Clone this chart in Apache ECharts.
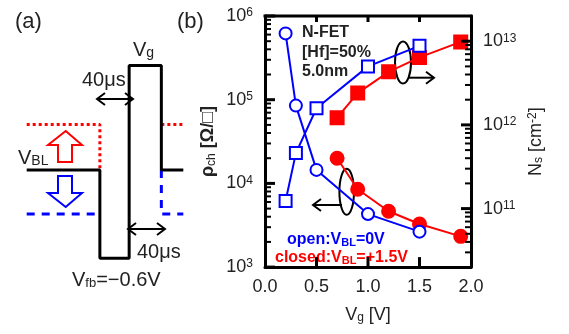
<!DOCTYPE html>
<html>
<head>
<meta charset="utf-8">
<script src="https://cdn.jsdelivr.net/npm/echarts@6/dist/echarts.min.js"></script>
<style>
  html, body { margin: 0; padding: 0; background: #fff; }
  #chart { width: 569px; height: 334px; }
</style>
</head>
<body>
<div id="chart"></div>
<script>
// ---- panel (b) data ----
var vgOpen = [0.2, 0.3, 0.5, 1.0, 1.5];
var rhoOpen = [6.2e5, 8.5e4, 1.45e4, 4.3e3, 2.65e3];
var nsOpen = [1.23e11, 4.6e11, 1.58e12, 5.0e12, 8.8e12];

var vgClosed = [0.7, 0.9, 1.2, 1.5, 1.9];
var rhoClosed = [2.0e4, 8.5e3, 4.65e3, 3.27e3, 2.33e3];
var nsClosed = [1.22e12, 2.4e12, 4.3e12, 6.4e12, 9.8e12];

var xInnerTicks = [0.5, 1.0, 1.5];
var rhoDecades = [1e3, 1e4, 1e5, 1e6];
var nsDecades = [1e11, 1e12, 1e13];

// ---- panel (a) pulse schematic (time units, volt-like levels) ----
var pulseT = [0, 100, 100, 140, 140, 184, 184, 214];
var pulseV = [0, 0, -0.6, -0.6, 0.71, 0.71, 0, 0];
var upLeftT = [0, 100, 100];
var upLeftV = [0.31, 0.31, 0];
var upRightT = [184, 214];
var upRightV = [0.31, 0.31];
var downLeftT = [0, 100];
var downLeftV = [-0.3, -0.3];
var downRightT = [184, 184, 214];
var downRightV = [0, -0.3, -0.3];

function pairs(xs, ys) {
    var out = [];
    for (var i = 0; i < xs.length; i++) out.push([xs[i], ys[i]]);
    return out;
}

function minorTicks(lo, hi) {
    var out = [];
    for (var d = lo; d < hi; d *= 10) {
        for (var k = 2; k <= 9; k++) out.push(d * k);
    }
    return out;
}

var FONT = 'Liberation Sans, Arial, sans-serif';
var BLUE = '#0000ff';
var RED = '#ff0000';

var supRich = {
    b: { fontSize: 18, lineHeight: 18, padding: [5, 0, 5, 0], fontFamily: FONT, color: '#222' },
    s: { fontSize: 12, lineHeight: 12, verticalAlign: 'top', fontFamily: FONT, color: '#222' }
};
function decadeLabel(v) {
    return '{b|10}{s|' + Math.round(Math.log10(v)) + '}';
}

var chart = echarts.init(document.getElementById('chart'));

function dataSeries(name, xs, ys, yIdx, symbol, color, filled, size) {
    return {
        name: name,
        type: 'line',
        xAxisIndex: 0,
        yAxisIndex: yIdx,
        data: pairs(xs, ys),
        symbol: symbol,
        symbolSize: size,
        showAllSymbol: true,
        lineStyle: { color: color, width: 2 },
        itemStyle: { color: filled ? color : '#fff', borderColor: color, borderWidth: 2 },
        z: filled ? 3 : 4
    };
}

function schemSeries(xs, ys, color, type) {
    return {
        type: 'line',
        xAxisIndex: 1,
        yAxisIndex: 2,
        data: pairs(xs, ys),
        symbol: 'none',
        lineStyle: { color: color, width: 3, type: type }
    };
}

// frame tick marks: custom series placed by the axes' scales
// pts are [x, y] anchor points on the frame, (dx, dy) the inward direction
function tickSeries(yIdx, pts, dx, dy, width) {
    return {
        type: 'custom',
        xAxisIndex: 0,
        yAxisIndex: yIdx,
        data: pts,
        silent: true,
        clip: false,
        z: 10,
        renderItem: function (params, api) {
            var p = api.coord([api.value(0), api.value(1)]);
            return {
                type: 'line',
                shape: { x1: p[0], y1: p[1], x2: p[0] + dx, y2: p[1] + dy },
                style: { stroke: '#000', lineWidth: width }
            };
        }
    };
}

function chevron(x, y, dir) {
    return {
        type: 'polyline',
        shape: { points: [[x - dir * 8, y - 6], [x, y], [x - dir * 8, y + 6]] },
        style: { stroke: '#000', lineWidth: 2, fill: null }
    };
}

function richText(x, y, text, size, subSize, color, bold) {
    var w = bold ? 'bold' : 'normal';
    return { type: 'text', x: x, y: y, style: {
        text: text, verticalAlign: 'middle',
        rich: {
            v: { fontSize: size, lineHeight: size, fontWeight: w, padding: [5, 0, 5, 0], fontFamily: FONT, fill: color },
            s: { fontSize: subSize, lineHeight: subSize, fontWeight: w, verticalAlign: 'bottom', fontFamily: FONT, fill: color }
        } } };
}

var option = {
    animation: false,
    grid: [
        { left: 265, top: 16, right: 98, bottom: 57 },
        { left: 26.7, top: 37.7, right: 385.7, bottom: 53.8 }
    ],
    xAxis: [
        {
            gridIndex: 0, type: 'value', min: 0, max: 2, interval: 0.5, position: 'bottom',
            axisLine: { show: true, lineStyle: { color: '#000', width: 3 } },
            axisTick: { show: false },
            splitLine: { show: false },
            axisLabel: { margin: 11, fontSize: 18, fontFamily: FONT, color: '#222',
                formatter: function (v) { return v.toFixed(1); } },
            name: '{v|V}{sub|g}{v| [V]}',
            nameLocation: 'middle',
            nameGap: 35,
            nameTextStyle: {
                rich: {
                    v: { fontSize: 18, lineHeight: 18, padding: [5, 0, 5, 0], fontFamily: FONT, color: '#222' },
                    sub: { fontSize: 12, lineHeight: 12, verticalAlign: 'bottom', fontFamily: FONT, color: '#222' }
                }
            }
        },
        {
            gridIndex: 1, type: 'value', min: 0, max: 214, show: false
        }
    ],
    yAxis: [
        {
            gridIndex: 0, type: 'log', min: 1e3, max: 1e6, position: 'left',
            axisLine: { show: true, lineStyle: { color: '#000', width: 3 } },
            axisTick: { show: false },
            splitLine: { show: false },
            axisLabel: { margin: 12, customValues: rhoDecades, formatter: decadeLabel, rich: supRich },
            name: '{r|\u03c1}{sub|ch}{r| [\u03a9/\u25a1]}',
            nameLocation: 'middle',
            nameGap: 46,
            nameTextStyle: {
                rich: {
                    r: { fontSize: 18, lineHeight: 18, fontWeight: 'bold', padding: [5, 0, 5, 0], fontFamily: FONT, color: '#222' },
                    sub: { fontSize: 12, lineHeight: 12, verticalAlign: 'bottom', fontFamily: FONT, color: '#222' }
                }
            }
        },
        {
            gridIndex: 0, type: 'log', min: 2e10, max: 2e13, position: 'right',
            axisLine: { show: true, lineStyle: { color: '#000', width: 3 } },
            axisTick: { show: false },
            splitLine: { show: false },
            axisLabel: { margin: 12, customValues: nsDecades, formatter: decadeLabel, rich: supRich },
            name: '{v|N}{sub|s}{v| [cm}{sup|-2}{v|]}',
            nameLocation: 'middle',
            nameGap: 56,
            nameRotate: 90,
            nameTextStyle: {
                rich: {
                    v: { fontSize: 18, lineHeight: 18, padding: [5, 0, 5, 0], fontFamily: FONT, color: '#222' },
                    sub: { fontSize: 12, lineHeight: 12, verticalAlign: 'bottom', fontFamily: FONT, color: '#222' },
                    sup: { fontSize: 12, lineHeight: 12, verticalAlign: 'top', fontFamily: FONT, color: '#222' }
                }
            }
        },
        {
            gridIndex: 1, type: 'value', min: -0.75, max: 0.9, show: false
        }
    ],
    series: [
        dataSeries('closed rho', vgClosed, rhoClosed, 0, 'circle', RED, true, 13),
        dataSeries('closed Ns', vgClosed, nsClosed, 1, 'rect', RED, true, 13),
        dataSeries('open rho', vgOpen, rhoOpen, 0, 'circle', BLUE, false, 12),
        dataSeries('open Ns', vgOpen, nsOpen, 1, 'rect', BLUE, false, 12),
        schemSeries(upLeftT, upLeftV, RED, [3, 3]),
        schemSeries(upRightT, upRightV, RED, [3, 3]),
        schemSeries(downLeftT, downLeftV, BLUE, [8, 7]),
        schemSeries(downRightT, downRightV, BLUE, [8, 7]),
        schemSeries(pulseT, pulseV, '#000', 'solid'),
        // bottom / top frame ticks
        tickSeries(0, xInnerTicks.map(function (v) { return [v, 1e3]; }), 0, -10, 3),
        tickSeries(0, xInnerTicks.map(function (v) { return [v, 1e6]; }), 0, 6, 3),
        // left frame ticks (rho)
        tickSeries(0, rhoDecades.map(function (v) { return [0, v]; }), 10, 0, 3),
        tickSeries(0, minorTicks(1e3, 1e6).map(function (v) { return [0, v]; }), 6, 0, 2),
        // right frame ticks (Ns)
        tickSeries(1, nsDecades.map(function (v) { return [2, v]; }), -10, 0, 3),
        tickSeries(1, minorTicks(1e10, 1e13).filter(function (v) { return v > 2e10 && v < 2e13; })
            .map(function (v) { return [2, v]; }), -6, 0, 2)
    ],
    graphic: [
        // top frame edge
        // panel tags
        { type: 'text', x: 15, y: 22, style: { text: '(a)', font: '22px ' + FONT, fill: '#222', verticalAlign: 'middle' } },
        { type: 'text', x: 177, y: 22, style: { text: '(b)', font: '22px ' + FONT, fill: '#222', verticalAlign: 'middle' } },
        // schematic labels
        richText(133, 50, '{v|V}{s|g}', 20, 14, '#222', false),
        { type: 'text', x: 82, y: 80, style: { text: '40\u03bcs', font: '20px ' + FONT, fill: '#222', verticalAlign: 'middle' } },
        { type: 'text', x: 137, y: 252, style: { text: '40\u03bcs', font: '20px ' + FONT, fill: '#222', verticalAlign: 'middle' } },
        richText(18, 158, '{v|V}{s|BL}', 20, 14, '#222', false),
        richText(72, 280, '{v|V}{s|fb}{v|=\u22120.6V}', 20, 13, '#222', false),
        // hollow block arrows
        { type: 'polygon', shape: { points: [[65.7, 131], [82, 145], [72, 145], [72, 162], [58, 162], [58, 145], [48, 145]] },
          style: { stroke: RED, lineWidth: 2, fill: '#fff' } },
        { type: 'polygon', shape: { points: [[58, 176], [72, 176], [72, 193], [82, 193], [65.7, 207], [48, 193], [58, 193]] },
          style: { stroke: BLUE, lineWidth: 2, fill: '#fff' } },
        // 40us double arrows
        { type: 'line', shape: { x1: 97, y1: 99, x2: 133, y2: 99 }, style: { stroke: '#000', lineWidth: 2 } },
        chevron(97, 99, -1), chevron(133, 99, 1),
        { type: 'line', shape: { x1: 128, y1: 229, x2: 165, y2: 229 }, style: { stroke: '#000', lineWidth: 2 } },
        chevron(128, 229, -1), chevron(165, 229, 1),
        // panel (b) annotations
        { type: 'text', x: 302, y: 33, style: { text: 'N-FET', font: 'bold 16px ' + FONT, fill: '#222', verticalAlign: 'middle' } },
        { type: 'text', x: 302, y: 53, style: { text: '[Hf]=50%', font: 'bold 16px ' + FONT, fill: '#222', verticalAlign: 'middle' } },
        { type: 'text', x: 302, y: 72, style: { text: '5.0nm', font: 'bold 16px ' + FONT, fill: '#222', verticalAlign: 'middle' } },
        richText(287, 240, '{v|open:V}{s|BL}{v|=0V}', 16, 11, BLUE, true),
        richText(275, 258, '{v|closed:V}{s|BL}{v|=+1.5V}', 16, 11, RED, true),
        // rotation symbols pointing to each axis
        { type: 'ellipse', shape: { cx: 403, cy: 62.5, rx: 8, ry: 21 }, style: { stroke: '#000', lineWidth: 2, fill: null } },
        { type: 'line', shape: { x1: 408, y1: 77.7, x2: 434, y2: 77.7 }, style: { stroke: '#000', lineWidth: 2 } },
        chevron(434, 77.7, 1),
        { type: 'ellipse', shape: { cx: 346.7, cy: 191.7, rx: 7.3, ry: 23 }, style: { stroke: '#000', lineWidth: 2, fill: null } },
        { type: 'line', shape: { x1: 342, y1: 205, x2: 313, y2: 205 }, style: { stroke: '#000', lineWidth: 2 } },
        chevron(313, 205, -1),
        // top edge of the frame
        { type: 'line', shape: { x1: 263.5, y1: 16, x2: 472.5, y2: 16 }, style: { stroke: '#000', lineWidth: 3 } }
    ]
};

chart.setOption(option);
window.onresize = chart.resize;
</script>
</body>
</html>
